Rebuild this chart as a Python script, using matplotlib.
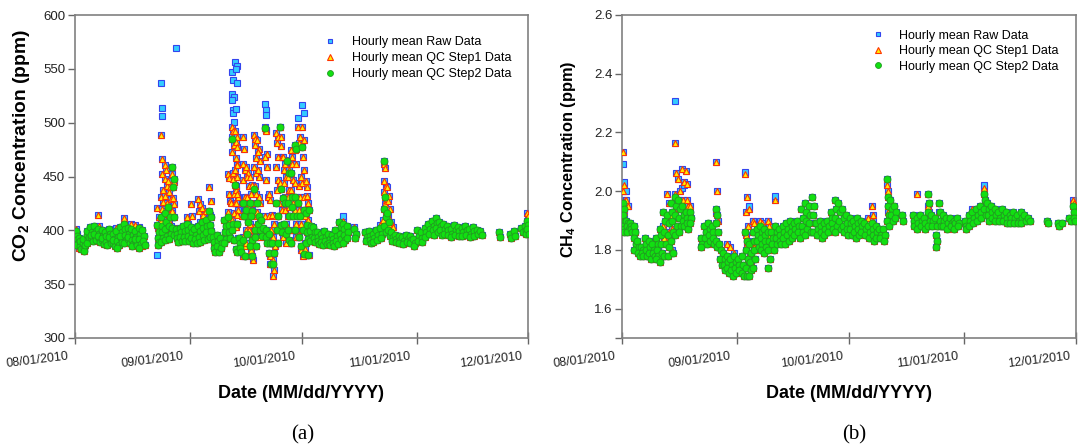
import numpy as np
import matplotlib
matplotlib.use("Agg")
import matplotlib.pyplot as plt
import matplotlib.transforms as mtransforms
from datetime import datetime

plt.rcParams['font.family'] = ['Liberation Sans', 'DejaVu Sans']
plt.rcParams['mathtext.fontset'] = 'custom'
plt.rcParams['mathtext.rm'] = 'Liberation Sans'
plt.rcParams['mathtext.bf'] = 'Liberation Sans:bold'

# ---------------- data ----------------
x_tick_labels = ['08/01/2010', '09/01/2010', '10/01/2010', '11/01/2010', '12/01/2010']
legend_labels = ['Hourly mean Raw Data', 'Hourly mean QC Step1 Data', 'Hourly mean QC Step2 Data']
co2_yticks = [300, 350, 400, 450, 500, 550, 600]
ch4_yticks = [1.6, 1.8, 2.0, 2.2, 2.4, 2.6]

# (day since 08/01/2010, hourly values) - CO2 (ppm)
co2_qc2 = [
    (0, [399, 395, 391, 388, 386]), (1, [393, 389, 385, 383, 390]), (2, [388, 384, 381, 386, 392]),
    (3, [396, 392, 388, 394, 399]), (4, [403, 398, 394, 390, 396]), (5, [404, 399, 395, 391, 397]),
    (6, [401, 397, 393, 389, 395]), (7, [400, 395, 391, 387, 393]), (8, [398, 393, 389, 386, 395]),
    (9, [401, 397, 392, 388, 394]), (10, [397, 392, 388, 385, 391]), (11, [399, 394, 390, 386, 384]),
    (12, [403, 398, 393, 389, 395]), (13, [406, 401, 396, 391, 388]), (14, [402, 397, 392, 388, 394]),
    (15, [401, 396, 391, 387, 385]), (16, [399, 394, 389, 386, 392]), (17, [402, 397, 392, 387, 384]),
    (18, [400, 395, 390, 386]),
    (22, [405, 398, 393, 389, 386]), (23, [412, 404, 398, 393, 389]), (24, [416, 408, 401, 395, 391]),
    (25, [422, 412, 404, 397, 392]), (26, [459, 448, 440, 412, 402, 396]), (27, [401, 397, 393, 389]),
    (28, [402, 398, 394, 390]), (29, [404, 399, 394, 390]), (30, [406, 400, 395, 390]),
    (31, [403, 398, 393, 388]), (32, [401, 396, 392, 388]), (33, [404, 399, 394, 389]),
    (34, [408, 402, 396, 391]), (35, [410, 404, 398, 392]), (36, [418, 412, 405, 399, 394]),
    (37, [394, 389, 384, 380]), (38, [396, 390, 385, 380]), (39, [393, 388, 384]),
    (40, [410, 404, 398, 392, 388]), (41, [412, 405, 398, 393]),
    (42, [485, 406, 400, 391]), (43, [442, 406, 383, 380]), (44, [393, 388, 384, 380]),
    (45, [425, 413, 391, 376]), (46, [419, 408, 397]), (47, [425, 418, 413, 391, 385, 376]),
    (48, [438, 400, 394, 385]), (49, [425, 413, 406, 400]), (50, [410, 402, 395]),
    (51, [495, 400, 394, 388]), (52, [397, 388, 379, 369]), (53, [388, 379, 369]),
    (54, [425, 413, 400, 388]), (55, [496, 438, 405, 398]), (56, [430, 425, 406, 397]),
    (57, [464, 453, 425, 413, 400, 391]), (58, [453, 431, 422, 413, 388]),
    (59, [479, 476, 431, 413, 400]), (60, [425, 413, 394, 385]), (61, [477, 419, 400, 378]),
    (62, [416, 405, 398, 392, 388, 377]), (63, [419, 404, 399, 394, 390]), (64, [403, 398, 393, 389]),
    (65, [398, 394, 390, 387]), (66, [397, 393, 389, 386]), (67, [399, 394, 390, 387]),
    (68, [397, 392, 388, 386]), (69, [396, 392, 388, 385]), (70, [400, 395, 390, 387]),
    (71, [408, 403, 397, 392]), (72, [406, 401, 396, 391, 388]), (73, [404, 398, 393]),
    (75, [401, 397, 393]),
    (78, [398, 394, 390]), (79, [399, 395, 391, 388]), (80, [397, 393, 389]), (81, [400, 396, 391]),
    (82, [402, 397, 393]), (83, [464, 431, 420, 412, 404, 398]), (84, [416, 408, 400, 395]),
    (85, [398, 394, 390]), (86, [396, 392, 389]), (87, [395, 391, 388]), (88, [394, 390, 387]),
    (89, [396, 392, 389]), (90, [395, 391, 388]), (91, [392, 388, 385]), (92, [400, 395, 390]),
    (93, [398, 393, 389]), (94, [402, 398, 394]), (95, [406, 401, 397]), (96, [409, 404, 400, 396]),
    (97, [411, 407, 402, 398]), (98, [408, 404, 400, 396]), (99, [406, 401, 397]), (100, [404, 400, 396]),
    (101, [401, 397, 394]), (102, [405, 400, 396]), (103, [403, 399, 395]), (104, [402, 398, 395]),
    (105, [404, 400, 396]), (106, [401, 397, 394]), (107, [403, 399, 395]), (108, [400, 397]),
    (109, [399, 396]), (114, [398, 394]), (117, [397, 393]), (118, [399, 395]), (120, [402, 398]),
    (121, [404, 400, 397]), (121.5, [409, 405, 401, 397]),
]
co2_qc1_only = [
    (0, [401, 397]), (1, [384]), (6, [414, 404]), (11, [402]), (13, [411, 404]), (15, [406]),
    (16, [405, 401]), (17, [403]), (18, [385]),
    (22, [421, 412, 402, 393]), (23, [489, 466, 452, 437, 431, 426, 420, 415, 409, 404]),
    (24, [461, 456, 448, 441, 432, 425, 418, 410, 404]), (25, [446, 440, 436, 429, 422, 416, 409, 404]),
    (26, [452, 445, 430, 424, 418]), (27, [402]),
    (30, [412, 406]), (31, [424, 413]), (33, [429, 424, 418, 408]), (34, [421, 414, 406]),
    (35, [418, 410, 402]), (36, [440, 427, 414]), (41, [452, 449, 434, 427, 417, 410]),
    (42, [496, 492, 487, 479, 473, 453, 448, 434, 425, 416, 410, 404]),
    (43, [492, 487, 482, 477, 467, 462, 437, 431, 425, 419, 406, 461, 456, 450, 441, 434, 425, 414, 403, 393]),
    (45, [487, 476, 462, 456, 447, 431, 425, 419, 413, 400, 394, 385, 376]),
    (46, [459, 453, 450, 441, 431, 422, 413, 400, 388]),
    (47, [450, 442, 434, 419, 406, 394, 382, 372]),
    (48, [489, 485, 479, 467, 459, 453, 441, 434, 425, 413, 403, 394, 385]),
    (49, [484, 476, 473, 464, 456, 450, 431, 425, 417, 410, 403, 394]),
    (51, [496, 493, 492, 471, 468, 459, 447, 431, 413]),
    (52, [434, 428, 413, 400, 388, 376, 369]),
    (53, [414, 406, 394, 385, 372, 363, 358]),
    (54, [490, 487, 481, 468, 459, 447, 437, 425, 413, 400]),
    (55, [496, 487, 478, 468, 444, 419, 400]),
    (56, [468, 462, 456, 450, 444, 431, 419, 406, 394, 388]),
    (57, [465, 456, 450, 437, 431, 422, 413, 400]),
    (58, [475, 468, 462, 447, 437, 425, 413, 400, 388]),
    (59, [475, 462, 444, 431, 419, 406, 394]),
    (60, [496, 487, 481, 450, 441, 431, 419, 406, 394, 382]),
    (61, [496, 484, 468, 456, 444, 431, 419, 413, 400, 388, 376]),
    (62, [446, 440, 432, 425, 418, 410, 402, 392, 383, 377]),
    (72, [409]), (75, [403]), (82, [405, 400]),
    (83, [462, 458, 446, 441, 436, 428, 424, 418, 410]), (84, [440, 432, 427, 420, 413, 406]),
    (85, [408, 403]), (99, [405]), (121.5, [416, 413]),
]
co2_raw_only = [
    (22, [377]), (23, [537, 514, 506]), (26, [416]), (27, [569, 399]),
    (42, [547, 540, 527, 524, 521, 512, 509, 501]), (43, [556, 553, 550, 537, 513]),
    (51, [517, 512, 507]), (60, [504]), (61, [516, 509]), (72, [413]),
]

# CH4 (ppm)
ch4_qc2 = [
    (0, [1.96, 1.94, 1.92, 1.90, 1.88, 1.87, 1.86]), (1, [1.90, 1.89, 1.88, 1.87, 1.86]),
    (2, [1.89, 1.88, 1.87, 1.86]), (3, [1.88, 1.86, 1.84, 1.82, 1.80]), (4, [1.83, 1.81, 1.79, 1.78]),
    (5, [1.81, 1.80, 1.79, 1.78]), (6, [1.84, 1.82, 1.80, 1.78]), (7, [1.83, 1.81, 1.79, 1.77]),
    (8, [1.82, 1.80, 1.79, 1.78]), (9, [1.84, 1.82, 1.80, 1.78, 1.77]), (10, [1.87, 1.85, 1.82, 1.79, 1.76]),
    (11, [1.93, 1.90, 1.86, 1.82, 1.78]), (12, [1.92, 1.89, 1.85, 1.81, 1.78]),
    (13, [1.96, 1.93, 1.90, 1.86, 1.83, 1.79]), (14, [1.98, 1.95, 1.92, 1.88, 1.85]),
    (15, [1.97, 1.94, 1.91, 1.88, 1.86]), (16, [1.95, 1.92, 1.90, 1.88]), (17, [1.93, 1.91, 1.89, 1.87]),
    (18, [1.93, 1.91, 1.89]),
    (21, [1.84, 1.82, 1.81]), (22, [1.88, 1.86, 1.84, 1.82]), (23, [1.89, 1.87, 1.85, 1.83]),
    (24, [1.88, 1.86, 1.84, 1.82]), (25, [1.94, 1.92, 1.89, 1.86, 1.83, 1.81]),
    (26, [1.82, 1.80, 1.77, 1.75]), (27, [1.79, 1.77, 1.75, 1.73]), (28, [1.78, 1.76, 1.74, 1.72]),
    (29, [1.77, 1.75, 1.73, 1.71]), (30, [1.78, 1.76, 1.74, 1.72]), (31, [1.77, 1.75, 1.73]),
    (32, [1.78, 1.75, 1.72, 1.71]), (33, [1.86, 1.83, 1.80, 1.77, 1.74, 1.71]),
    (34, [1.82, 1.79, 1.76, 1.73, 1.71]), (35, [1.86, 1.83, 1.80, 1.77, 1.74]),
    (36, [1.87, 1.85, 1.83, 1.81]), (37, [1.88, 1.86, 1.84, 1.82, 1.80]),
    (38, [1.87, 1.85, 1.83, 1.81, 1.79]), (39, [1.86, 1.83, 1.80, 1.77, 1.74]),
    (40, [1.86, 1.84, 1.82, 1.80]), (41, [1.88, 1.86, 1.84, 1.82]), (42, [1.87, 1.85, 1.83, 1.82]),
    (43, [1.88, 1.86, 1.84, 1.82]), (44, [1.89, 1.87, 1.85, 1.83]), (45, [1.90, 1.88, 1.86, 1.84]),
    (46, [1.89, 1.87, 1.85]), (47, [1.90, 1.88, 1.86, 1.84]), (48, [1.94, 1.91, 1.88, 1.86]),
    (49, [1.96, 1.93, 1.90, 1.87, 1.85]), (50, [1.95, 1.92, 1.89, 1.86]),
    (51, [1.98, 1.95, 1.92, 1.89, 1.86]), (52, [1.89, 1.87, 1.85]), (53, [1.90, 1.88, 1.86, 1.84]),
    (54, [1.89, 1.87, 1.85]), (55, [1.90, 1.88, 1.86]), (56, [1.93, 1.91, 1.89, 1.87]),
    (57, [1.97, 1.94, 1.91, 1.88, 1.86]), (58, [1.96, 1.93, 1.90, 1.87]), (59, [1.94, 1.91, 1.88, 1.86]),
    (60, [1.92, 1.89, 1.87, 1.85]), (61, [1.91, 1.89, 1.87, 1.85]), (62, [1.90, 1.88, 1.86, 1.84]),
    (63, [1.91, 1.89, 1.87, 1.85]), (64, [1.90, 1.88, 1.86]), (65, [1.89, 1.87, 1.85]),
    (66, [1.88, 1.86, 1.84]), (67, [1.89, 1.87, 1.85, 1.83]), (68, [1.88, 1.86, 1.84]),
    (69, [1.87, 1.85, 1.84]), (70, [1.87, 1.85, 1.83]), (71, [2.04, 1.98, 1.95, 1.92, 1.90, 1.88]),
    (72, [1.97, 1.94, 1.92, 1.90]), (73, [1.95, 1.93, 1.91]), (75, [1.92, 1.90]),
    (78, [1.92, 1.90, 1.88]), (79, [1.91, 1.89, 1.87]), (80, [1.92, 1.90, 1.88]), (81, [1.91, 1.89, 1.87]),
    (82, [1.99, 1.96, 1.93, 1.90, 1.88]), (83, [1.92, 1.90, 1.88]), (84, [1.91, 1.88, 1.85, 1.83, 1.81]),
    (85, [1.96, 1.93, 1.90, 1.88]), (86, [1.92, 1.90, 1.88]), (87, [1.91, 1.89, 1.87]),
    (88, [1.91, 1.89, 1.88]), (89, [1.90, 1.89, 1.87]), (90, [1.91, 1.89, 1.88]),
    (92, [1.90, 1.88, 1.87]), (93, [1.92, 1.90, 1.88]), (94, [1.93, 1.91, 1.89]), (95, [1.94, 1.92, 1.90]),
    (96, [1.95, 1.93, 1.91]), (97, [1.99, 1.97, 1.94, 1.92]), (98, [1.96, 1.94, 1.92, 1.90]),
    (99, [1.95, 1.93, 1.91]), (100, [1.94, 1.92, 1.90]), (101, [1.93, 1.91, 1.90]),
    (102, [1.94, 1.92, 1.90]), (103, [1.93, 1.91, 1.89]), (104, [1.92, 1.91, 1.89]),
    (105, [1.93, 1.91, 1.89]), (106, [1.92, 1.90, 1.89]), (107, [1.93, 1.91, 1.89]),
    (108, [1.92, 1.90]), (109, [1.91, 1.90]), (114, [1.90, 1.89]), (117, [1.89, 1.88]), (118, [1.89]),
    (120, [1.91, 1.90]), (121, [1.95, 1.93, 1.91, 1.90]),
]
ch4_qc1_only = [
    (0, [2.135, 2.02, 2.00, 1.97, 1.95, 1.93, 1.91]), (1, [1.97, 1.95]), (9, [1.82, 1.80]),
    (11, [1.88, 1.86, 1.84]), (12, [1.99, 1.96, 1.90, 1.86, 1.83]), (13, [1.92, 1.87, 1.80]),
    (14, [2.163, 2.063, 1.99, 1.95, 1.93]), (15, [2.04, 2.00, 1.97]), (16, [2.076, 2.03, 1.97]),
    (17, [2.069, 2.025, 1.97, 1.95]), (18, [1.95]),
    (25, [2.10, 2.00, 1.925, 1.90, 1.86]), (26, [1.82]), (28, [1.82]), (29, [1.81]), (30, [1.79, 1.77]),
    (33, [2.06, 1.98, 1.93, 1.88, 1.85, 1.82]), (34, [1.94, 1.82, 1.79, 1.76]), (35, [1.90, 1.89, 1.81]),
    (37, [1.90, 1.89]), (39, [1.90, 1.88, 1.85, 1.81]), (41, [1.97]),
    (66, [1.91]), (67, [1.95, 1.92, 1.90]), (69, [1.87]), (71, [2.02, 2.00, 1.93]), (79, [1.99]),
    (82, [1.95, 1.93]), (85, [1.93, 1.88]), (94, [1.94]), (97, [2.01]), (99, [1.95, 1.94]),
    (121, [1.97, 1.96]),
]
ch4_raw_only = [
    (0, [2.093, 2.03, 2.01, 2.00]), (1, [2.00, 1.95]), (11, [1.86]), (14, [2.308]), (16, [2.01, 2.02]),
    (33, [2.067]), (34, [1.95]), (35, [1.90]), (39, [1.90]), (41, [1.985]), (97, [2.02]),
]

# ---------------- helpers ----------------
HOUR_OFFS = [0.15, 0.55, 0.35, 0.75, 0.25, 0.65, 0.45, 0.85, 0.05, 0.95, 0.3, 0.7]


def flatten(*groups_list):
    xs, ys = [], []
    for groups in groups_list:
        for day, vals in groups:
            for i, v in enumerate(vals):
                xs.append(day + HOUR_OFFS[i % len(HOUR_OFFS)])
                ys.append(v)
    return np.array(xs), np.array(ys)


base = datetime.strptime(x_tick_labels[0], '%m/%d/%Y')
tick_pos = [(datetime.strptime(s, '%m/%d/%Y') - base).days for s in x_tick_labels]

fig = plt.figure(figsize=(10.82, 4.47), dpi=100)
W, H = 1082, 447
ax_a = fig.add_axes([75 / W, 1 - 338 / H, 453 / W, 323 / H])
ax_b = fig.add_axes([622 / W, 1 - 338 / H, 454 / W, 323 / H])

raw_style = dict(ls='none', marker='s', ms=4.2, mfc='#33CCFF', mec='#3344EE', mew=0.8)
qc1_style = dict(ls='none', marker='^', ms=4.8, mfc='#FFEE00', mec='#FF3300', mew=0.8)
qc2_style = dict(ls='none', marker='o', ms=5.0, mfc='#11E011', mec='#229922', mew=0.6)


def draw(ax, qc2, qc1_only, raw_only, ylim, yticks, yfmt, extra_ticks, leg_anchor, leg_spacing):
    xr, yr = flatten(qc2, qc1_only, raw_only)
    x1, y1 = flatten(qc2, qc1_only)
    x2, y2 = flatten(qc2)
    h_raw, = ax.plot(xr, yr, zorder=2, **raw_style)
    h_qc1, = ax.plot(x1, y1, zorder=3, **qc1_style)
    h_qc2, = ax.plot(x2, y2, zorder=4, **qc2_style)
    ax.set_xlim(tick_pos[0], tick_pos[-1])
    ax.set_ylim(*ylim)
    all_yt = list(yticks) + list(extra_ticks)
    ax.set_yticks(all_yt, [yfmt.format(t) for t in yticks] + [''] * len(extra_ticks))
    ax.tick_params(axis='x', direction='inout', length=8, width=1, color='#666666', pad=5)
    ax.tick_params(axis='y', direction='out', length=5, width=1, color='#666666',
                   labelsize=9.5, labelcolor='#222222', pad=2)
    ax.set_xticks(tick_pos, x_tick_labels, rotation=7, ha='right', va='top',
                  rotation_mode='anchor', fontsize=9, color='#222222')
    off = mtransforms.ScaledTranslation(-5 / 72, 0, fig.dpi_scale_trans)
    for lbl in ax.get_xticklabels():
        lbl.set_transform(lbl.get_transform() + off)
    for s in ax.spines.values():
        s.set_color('#808080')
        s.set_linewidth(1.2)
    ax.legend([h_raw, h_qc1, h_qc2], legend_labels, loc='upper left', bbox_to_anchor=leg_anchor,
              frameon=False, fontsize=9, handlelength=1.0, handletextpad=1.2,
              labelspacing=leg_spacing, borderpad=0, borderaxespad=0, markerscale=0.85)


draw(ax_a, co2_qc2, co2_qc1_only, co2_raw_only, (300, 600), co2_yticks, '{:.0f}', [],
     (0.55, 0.935), 0.33)
draw(ax_b, ch4_qc2, ch4_qc1_only, ch4_raw_only, (1.5, 2.6), ch4_yticks, '{:.1f}', [1.5],
     (0.55, 0.955), 0.28)

fig.text(22 / W, 1 - 262 / H, r'CO$_\mathbf{2}$ Concentration (ppm)', rotation=90,
         ha='center', va='bottom', fontsize=13.9, fontweight='bold')
fig.text(568 / W, 1 - 258 / H, r'CH$_\mathbf{4}$ Concentration (ppm)', rotation=90,
         ha='center', va='bottom', fontsize=11.8, fontweight='bold')
fig.text(301 / W, 1 - 393 / H, 'Date (MM/dd/YYYY)', ha='center', va='center',
         fontsize=13, fontweight='bold')
fig.text(849 / W, 1 - 393 / H, 'Date (MM/dd/YYYY)', ha='center', va='center',
         fontsize=13, fontweight='bold')
fig.text(303 / W, 1 - 435 / H, '(a)', ha='center', va='center', fontsize=15,
         family=['Liberation Serif', 'DejaVu Serif'])
fig.text(854 / W, 1 - 435 / H, '(b)', ha='center', va='center', fontsize=15,
         family=['Liberation Serif', 'DejaVu Serif'])

fig.savefig('out.png', dpi=100)
